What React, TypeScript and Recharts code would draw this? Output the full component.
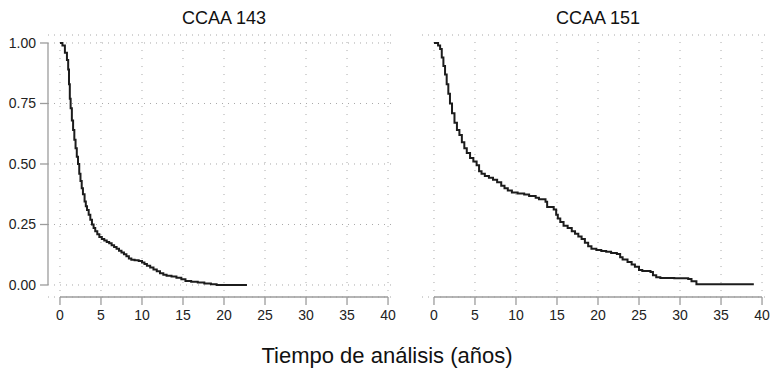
import React from 'react'
import { LineChart, Line, XAxis, YAxis, CartesianGrid, ReferenceLine } from 'recharts'

// Kaplan-Meier estimates, time in years
const t143 = [0, 0.3, 0.6, 0.85, 1.0, 1.1, 1.2, 1.3, 1.45, 1.6, 1.75, 1.9, 2.05, 2.2, 2.35, 2.5, 2.65, 2.8, 3.0, 3.15, 3.3, 3.5, 3.7, 3.9, 4.1, 4.3, 4.55, 4.8, 5.1, 5.4, 5.7, 6.0, 6.3, 6.6, 6.9, 7.2, 7.5, 7.8, 8.1, 8.4, 8.7, 9.1, 9.6, 10.0, 10.3, 10.6, 11.0, 11.4, 11.8, 12.2, 12.6, 13.0, 13.6, 14.2, 14.8, 15.3, 16.0, 16.8, 17.6, 18.4, 19.1, 22.8]
const s143 = [1.0, 0.99, 0.96, 0.93, 0.89, 0.83, 0.77, 0.73, 0.68, 0.64, 0.6, 0.565, 0.53, 0.5, 0.46, 0.43, 0.4, 0.375, 0.345, 0.325, 0.31, 0.29, 0.27, 0.25, 0.235, 0.222, 0.21, 0.198, 0.19, 0.184, 0.178, 0.172, 0.164, 0.157, 0.15, 0.142, 0.134, 0.127, 0.119, 0.11, 0.104, 0.102, 0.099, 0.093, 0.087, 0.08, 0.072, 0.064, 0.057, 0.049, 0.042, 0.038, 0.035, 0.03, 0.024, 0.016, 0.013, 0.01, 0.006, 0.003, 0, 0]

const t151 = [0, 0.5, 0.75, 0.95, 1.15, 1.35, 1.55, 1.75, 1.95, 2.2, 2.5, 2.8, 3.1, 3.4, 3.7, 4.0, 4.4, 4.8, 5.2, 5.5, 5.8, 6.2, 6.7, 7.2, 7.7, 8.2, 8.6, 9.0, 9.5, 10.2, 11.0, 11.6, 12.4, 12.8, 13.6, 13.8, 14.6, 14.9, 15.1, 15.4, 15.8, 16.3, 16.8, 17.2, 17.6, 18.0, 18.4, 18.8, 19.2, 19.8, 20.4, 21.0, 21.6, 22.3, 22.7, 23.0, 23.6, 24.1, 24.5, 25.0, 25.4, 26.4, 26.7, 27.1, 27.6, 29.3, 31.0, 31.4, 32.0, 39.0]
const s151 = [1.0, 0.99, 0.975, 0.94, 0.905, 0.87, 0.83, 0.79, 0.75, 0.71, 0.67, 0.64, 0.62, 0.59, 0.565, 0.545, 0.525, 0.51, 0.495, 0.47, 0.46, 0.45, 0.443, 0.435, 0.425, 0.41, 0.4, 0.39, 0.382, 0.378, 0.374, 0.368, 0.36, 0.354, 0.344, 0.322, 0.312, 0.29, 0.275, 0.26, 0.245, 0.235, 0.222, 0.212, 0.2, 0.19, 0.175, 0.16, 0.15, 0.145, 0.14, 0.137, 0.132, 0.128, 0.115, 0.105, 0.095, 0.085, 0.075, 0.062, 0.058, 0.054, 0.04, 0.032, 0.029, 0.028, 0.025, 0.015, 0.003, 0.003]

const xTicks = [0, 5, 10, 15, 20, 25, 30, 35, 40]
const yTicks = [0, 0.25, 0.5, 0.75, 1]

const FONT = '"Liberation Sans", Arial, Helvetica, sans-serif'
const AXIS = '#9c9c9c'
const GRID = '#a8a8a8'
const X_DOMAIN: [number, number] = [-1.46, 40.85]
const Y_DOMAIN: [number, number] = [-0.0496, 1.033]

const toRows = (t: number[], s: number[]) => t.map((v, i) => ({ t: v, s: s[i] }))

function Panel({ t, s, showY }: { t: number[]; s: number[]; showY: boolean }) {
  const tickStyle = { fontSize: 14, fill: '#222', fontFamily: FONT }
  return (
    <LineChart width={400} height={330} data={toRows(t, s)} margin={{ top: 35, right: 5, left: 0, bottom: 0 }}>
      <CartesianGrid vertical={false} stroke={GRID} strokeDasharray="1 5" />
      {xTicks.map(x => (
        <ReferenceLine key={x} ifOverflow="visible" stroke={GRID} strokeDasharray="1 7"
          segment={[{ x, y: -0.025 }, { x, y: 1.033 }]} />
      ))}
      <XAxis dataKey="t" type="number" domain={X_DOMAIN} allowDataOverflow ticks={xTicks}
        height={33} tickSize={8} tickMargin={5} axisLine={false}
        tickLine={{ stroke: AXIS, strokeWidth: 1.3 }} tick={tickStyle} />
      <YAxis type="number" domain={Y_DOMAIN} allowDataOverflow ticks={yTicks} width={48}
        tickSize={8} tickMargin={4} axisLine={false}
        tickLine={showY ? { stroke: AXIS, strokeWidth: 1.3 } : false}
        tick={showY ? tickStyle : false} tickFormatter={(v: number) => v.toFixed(2)} />
      <ReferenceLine ifOverflow="visible" stroke={AXIS} strokeWidth={1.3}
        segment={[{ x: 0, y: Y_DOMAIN[0] }, { x: 40, y: Y_DOMAIN[0] }]} />
      {showY && (
        <ReferenceLine ifOverflow="visible" stroke={AXIS} strokeWidth={1.3}
          segment={[{ x: X_DOMAIN[0], y: 0 }, { x: X_DOMAIN[0], y: 1 }]} />
      )}
      <Line type="stepAfter" dataKey="s" stroke="#1c1c1c" strokeWidth={2} dot={false} isAnimationActive={false} />
    </LineChart>
  )
}

export default function App() {
  const title = { position: 'absolute' as const, top: 9, width: 200, textAlign: 'center' as const, fontFamily: FONT, fontSize: 18, lineHeight: '18px', color: '#111' }
  return (
    <div style={{ position: 'absolute', left: 0, top: 0, width: 774, height: 375, background: '#fff', overflow: 'hidden' }}>
      <div style={{ ...title, left: 124 }}>CCAA 143</div>
      <div style={{ ...title, left: 498 }}>CCAA 151</div>
      <div style={{ position: 'absolute', left: 0, top: 0 }}>
        <Panel t={t143} s={s143} showY />
      </div>
      <div style={{ position: 'absolute', left: 374, top: 0 }}>
        <Panel t={t151} s={s151} showY={false} />
      </div>
      <div style={{ position: 'absolute', left: 0, top: 345, width: 774, textAlign: 'center', fontFamily: FONT, fontSize: 22, lineHeight: '22px', color: '#111' }}>
        Tiempo de análisis (años)
      </div>
    </div>
  )
}
